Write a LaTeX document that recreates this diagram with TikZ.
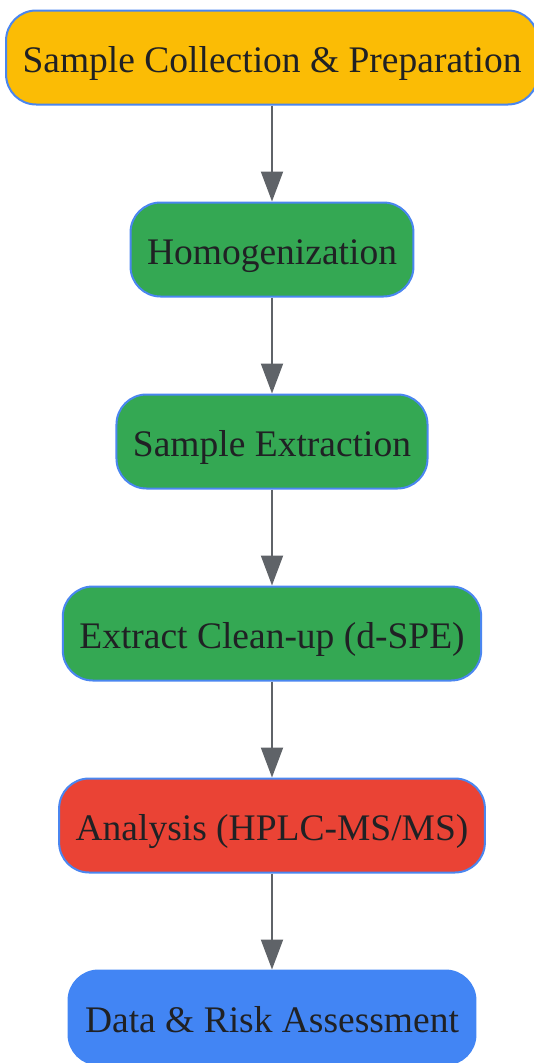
\documentclass[tikz,border=0pt]{standalone}
\usepackage{fontspec}
\setmainfont{Liberation Serif}
\usetikzlibrary{arrows.meta,positioning}
\definecolor{gyellow}{HTML}{FBBC05}
\definecolor{ggreen}{HTML}{34A853}
\definecolor{gred}{HTML}{EA4335}
\definecolor{gblue}{HTML}{4285F4}
\definecolor{gborder}{HTML}{4A86F0}
\definecolor{garrow}{HTML}{5F6368}
\definecolor{gtext}{HTML}{202124}

\begin{document}
\begin{tikzpicture}[x=1pt,y=1pt,
    stage/.style={draw=gborder, line width=2pt, rounded corners=30pt,
      minimum height=94pt, inner xsep=16.5pt, inner ysep=0pt,
      text height=32pt, text depth=3pt,
      text=gtext, font=\fontsize{37.5}{45}\selectfont},
    node distance=96pt,
    every edge/.style={draw=garrow, line width=2pt},
    >={Triangle[width=22pt,length=30pt]}]
  \useasboundingbox (0,0) rectangle (534,-1063);
  \node [stage, fill=gyellow] (s_collect) at (272,-57.5) {Sample Collection \& Preparation};
  \node [stage, fill=ggreen] (s_homog) [below=of s_collect] {Homogenization};
  \node [stage, fill=ggreen] (s_extract) [below=of s_homog] {Sample Extraction};
  \node [stage, fill=ggreen] (s_cleanup) [below=of s_extract] {Extract Clean-up (d-SPE)};
  \node [stage, fill=gred] (s_analysis) [below=of s_cleanup] {Analysis (HPLC-MS/MS)};
  \node [stage, fill=gblue, draw=gblue] (s_assess) [below=of s_analysis] {Data \& Risk Assessment};
    \path[->]
    (s_collect) edge (s_homog)
    (s_homog) edge (s_extract)
    (s_extract) edge (s_cleanup)
    (s_cleanup) edge (s_analysis)
    (s_analysis) edge (s_assess);
\end{tikzpicture}
\end{document}
